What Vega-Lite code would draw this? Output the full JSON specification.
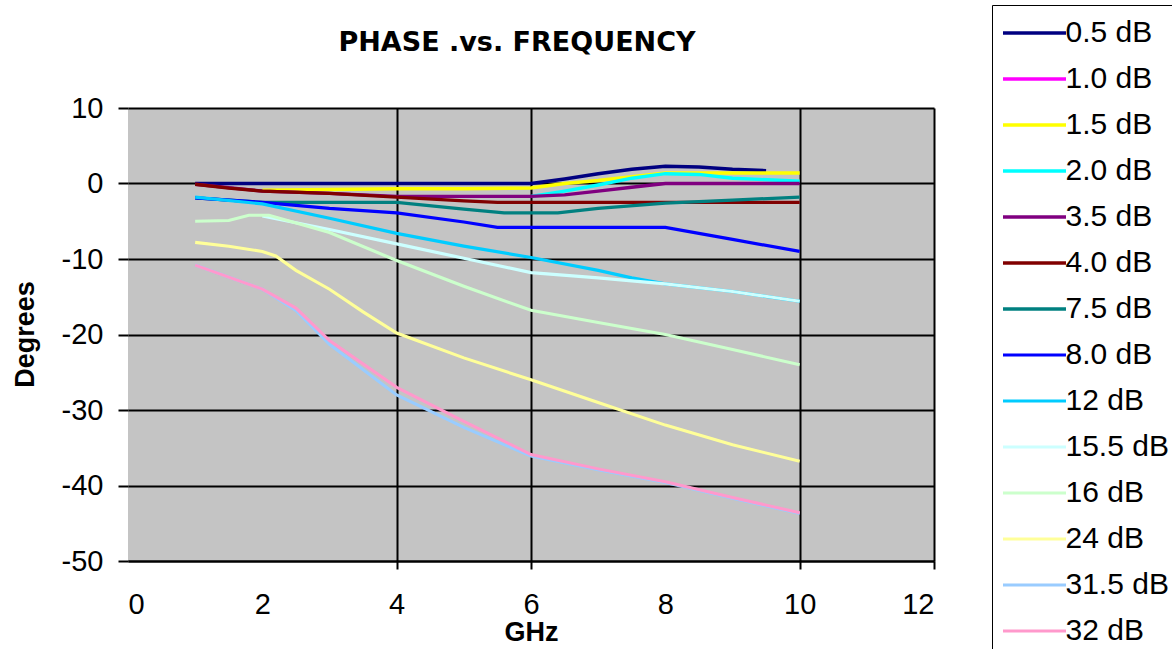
{
  "$schema": "https://vega.github.io/schema/vega-lite/v6.json",
  "width": 806,
  "height": 453,
  "autosize": {"type": "none"},
  "padding": {"left": 128, "top": 108, "right": 238, "bottom": 88},
  "background": "white",
  "config": {
    "view": {"fill": "#C4C4C4", "stroke": null},
    "font": "Liberation Sans"
  },
  "title": {
    "text": "PHASE .vs. FREQUENCY",
    "font": "DejaVu Sans",
    "fontSize": 27,
    "fontWeight": "bold",
    "color": "black",
    "anchor": "middle",
    "frame": "group",
    "baseline": "alphabetic",
    "offset": -73,
    "dx": -14
  },
  "data": {
    "values": [
      {"series": "0.5 dB", "GHz": 1, "deg": 0},
      {"series": "0.5 dB", "GHz": 2, "deg": 0},
      {"series": "0.5 dB", "GHz": 3, "deg": 0},
      {"series": "0.5 dB", "GHz": 4, "deg": 0},
      {"series": "0.5 dB", "GHz": 5, "deg": 0},
      {"series": "0.5 dB", "GHz": 6, "deg": 0},
      {"series": "0.5 dB", "GHz": 6.5, "deg": 0.6},
      {"series": "0.5 dB", "GHz": 7, "deg": 1.3},
      {"series": "0.5 dB", "GHz": 7.5, "deg": 1.9},
      {"series": "0.5 dB", "GHz": 8, "deg": 2.3},
      {"series": "0.5 dB", "GHz": 8.5, "deg": 2.2},
      {"series": "0.5 dB", "GHz": 9, "deg": 1.9},
      {"series": "0.5 dB", "GHz": 9.5, "deg": 1.7},

      {"series": "1.5 dB", "GHz": 2, "deg": -0.9},
      {"series": "1.5 dB", "GHz": 3, "deg": -0.8},
      {"series": "1.5 dB", "GHz": 4, "deg": -0.7},
      {"series": "1.5 dB", "GHz": 5, "deg": -0.7},
      {"series": "1.5 dB", "GHz": 6, "deg": -0.6},
      {"series": "1.5 dB", "GHz": 6.5, "deg": 0},
      {"series": "1.5 dB", "GHz": 7, "deg": 0.4},
      {"series": "1.5 dB", "GHz": 7.5, "deg": 0.9},
      {"series": "1.5 dB", "GHz": 8, "deg": 1.4},
      {"series": "1.5 dB", "GHz": 9, "deg": 1.4},
      {"series": "1.5 dB", "GHz": 10, "deg": 1.4},

      {"series": "2.0 dB", "GHz": 6, "deg": -1.7},
      {"series": "2.0 dB", "GHz": 6.5, "deg": -1.0},
      {"series": "2.0 dB", "GHz": 7, "deg": -0.2},
      {"series": "2.0 dB", "GHz": 7.5, "deg": 0.7},
      {"series": "2.0 dB", "GHz": 8, "deg": 1.3},
      {"series": "2.0 dB", "GHz": 8.5, "deg": 1.2},
      {"series": "2.0 dB", "GHz": 9, "deg": 0.7},
      {"series": "2.0 dB", "GHz": 10, "deg": 0.3},

      {"series": "3.5 dB", "GHz": 1, "deg": -0.1},
      {"series": "3.5 dB", "GHz": 2, "deg": -1.0},
      {"series": "3.5 dB", "GHz": 3, "deg": -1.3},
      {"series": "3.5 dB", "GHz": 4, "deg": -1.7},
      {"series": "3.5 dB", "GHz": 6, "deg": -1.7},
      {"series": "3.5 dB", "GHz": 6.5, "deg": -1.5},
      {"series": "3.5 dB", "GHz": 7, "deg": -1.0},
      {"series": "3.5 dB", "GHz": 7.5, "deg": -0.5},
      {"series": "3.5 dB", "GHz": 8, "deg": 0},
      {"series": "3.5 dB", "GHz": 9, "deg": 0},
      {"series": "3.5 dB", "GHz": 10, "deg": 0},

      {"series": "4.0 dB", "GHz": 1, "deg": -0.1},
      {"series": "4.0 dB", "GHz": 1.5, "deg": -0.6},
      {"series": "4.0 dB", "GHz": 2, "deg": -1.0},
      {"series": "4.0 dB", "GHz": 3, "deg": -1.3},
      {"series": "4.0 dB", "GHz": 4, "deg": -1.8},
      {"series": "4.0 dB", "GHz": 5, "deg": -2.3},
      {"series": "4.0 dB", "GHz": 5.5, "deg": -2.5},
      {"series": "4.0 dB", "GHz": 6, "deg": -2.5},
      {"series": "4.0 dB", "GHz": 7, "deg": -2.5},
      {"series": "4.0 dB", "GHz": 8, "deg": -2.5},
      {"series": "4.0 dB", "GHz": 9, "deg": -2.5},
      {"series": "4.0 dB", "GHz": 10, "deg": -2.5},

      {"series": "7.5 dB", "GHz": 1, "deg": -1.9},
      {"series": "7.5 dB", "GHz": 2, "deg": -2.5},
      {"series": "7.5 dB", "GHz": 3, "deg": -2.5},
      {"series": "7.5 dB", "GHz": 4, "deg": -2.5},
      {"series": "7.5 dB", "GHz": 5, "deg": -3.4},
      {"series": "7.5 dB", "GHz": 5.6, "deg": -3.9},
      {"series": "7.5 dB", "GHz": 6.4, "deg": -3.9},
      {"series": "7.5 dB", "GHz": 7, "deg": -3.3},
      {"series": "7.5 dB", "GHz": 8, "deg": -2.6},
      {"series": "7.5 dB", "GHz": 9, "deg": -2.2},
      {"series": "7.5 dB", "GHz": 10, "deg": -1.8},

      {"series": "8.0 dB", "GHz": 1, "deg": -1.9},
      {"series": "8.0 dB", "GHz": 2, "deg": -2.5},
      {"series": "8.0 dB", "GHz": 3, "deg": -3.3},
      {"series": "8.0 dB", "GHz": 4, "deg": -3.9},
      {"series": "8.0 dB", "GHz": 5, "deg": -5.1},
      {"series": "8.0 dB", "GHz": 5.5, "deg": -5.8},
      {"series": "8.0 dB", "GHz": 6, "deg": -5.8},
      {"series": "8.0 dB", "GHz": 7, "deg": -5.8},
      {"series": "8.0 dB", "GHz": 8, "deg": -5.8},
      {"series": "8.0 dB", "GHz": 9, "deg": -7.4},
      {"series": "8.0 dB", "GHz": 10, "deg": -9.0},

      {"series": "12 dB", "GHz": 1, "deg": -1.8},
      {"series": "12 dB", "GHz": 2, "deg": -2.7},
      {"series": "12 dB", "GHz": 3, "deg": -4.6},
      {"series": "12 dB", "GHz": 4, "deg": -6.6},
      {"series": "12 dB", "GHz": 5, "deg": -8.3},
      {"series": "12 dB", "GHz": 6, "deg": -9.8},
      {"series": "12 dB", "GHz": 7, "deg": -11.5},
      {"series": "12 dB", "GHz": 7.5, "deg": -12.5},
      {"series": "12 dB", "GHz": 8, "deg": -13.3},
      {"series": "12 dB", "GHz": 9, "deg": -14.3},
      {"series": "12 dB", "GHz": 10, "deg": -15.6},

      {"series": "15.5 dB", "GHz": 2, "deg": -4.3},
      {"series": "15.5 dB", "GHz": 3, "deg": -6.1},
      {"series": "15.5 dB", "GHz": 4, "deg": -8.0},
      {"series": "15.5 dB", "GHz": 5, "deg": -9.9},
      {"series": "15.5 dB", "GHz": 6, "deg": -11.8},
      {"series": "15.5 dB", "GHz": 7, "deg": -12.5},
      {"series": "15.5 dB", "GHz": 8, "deg": -13.3},
      {"series": "15.5 dB", "GHz": 9, "deg": -14.3},
      {"series": "15.5 dB", "GHz": 10, "deg": -15.6},

      {"series": "16 dB", "GHz": 1, "deg": -5.0},
      {"series": "16 dB", "GHz": 1.5, "deg": -4.9},
      {"series": "16 dB", "GHz": 1.8, "deg": -4.2},
      {"series": "16 dB", "GHz": 2.1, "deg": -4.2},
      {"series": "16 dB", "GHz": 3, "deg": -6.5},
      {"series": "16 dB", "GHz": 4, "deg": -10.2},
      {"series": "16 dB", "GHz": 5, "deg": -13.6},
      {"series": "16 dB", "GHz": 6, "deg": -16.8},
      {"series": "16 dB", "GHz": 7, "deg": -18.4},
      {"series": "16 dB", "GHz": 8, "deg": -20.0},
      {"series": "16 dB", "GHz": 9, "deg": -22.0},
      {"series": "16 dB", "GHz": 10, "deg": -24.0},

      {"series": "24 dB", "GHz": 1, "deg": -7.8},
      {"series": "24 dB", "GHz": 1.5, "deg": -8.3},
      {"series": "24 dB", "GHz": 2, "deg": -9.0},
      {"series": "24 dB", "GHz": 2.2, "deg": -9.6},
      {"series": "24 dB", "GHz": 2.5, "deg": -11.5},
      {"series": "24 dB", "GHz": 3, "deg": -14.0},
      {"series": "24 dB", "GHz": 3.5, "deg": -17.0},
      {"series": "24 dB", "GHz": 4, "deg": -19.8},
      {"series": "24 dB", "GHz": 5, "deg": -23.1},
      {"series": "24 dB", "GHz": 6, "deg": -26.0},
      {"series": "24 dB", "GHz": 7, "deg": -29.0},
      {"series": "24 dB", "GHz": 8, "deg": -32.0},
      {"series": "24 dB", "GHz": 9, "deg": -34.6},
      {"series": "24 dB", "GHz": 10, "deg": -36.8},

      {"series": "31.5 dB", "GHz": 1, "deg": -10.8},
      {"series": "31.5 dB", "GHz": 2, "deg": -14.0},
      {"series": "31.5 dB", "GHz": 2.5, "deg": -16.8},
      {"series": "31.5 dB", "GHz": 3, "deg": -21.3},
      {"series": "31.5 dB", "GHz": 4, "deg": -28.0},
      {"series": "31.5 dB", "GHz": 5, "deg": -32.3},
      {"series": "31.5 dB", "GHz": 6, "deg": -36.1},
      {"series": "31.5 dB", "GHz": 7, "deg": -37.9},
      {"series": "31.5 dB", "GHz": 8, "deg": -39.6},
      {"series": "31.5 dB", "GHz": 9, "deg": -41.7},
      {"series": "31.5 dB", "GHz": 10, "deg": -43.7},

      {"series": "32 dB", "GHz": 1, "deg": -10.8},
      {"series": "32 dB", "GHz": 2, "deg": -14.0},
      {"series": "32 dB", "GHz": 2.5, "deg": -16.5},
      {"series": "32 dB", "GHz": 3, "deg": -20.8},
      {"series": "32 dB", "GHz": 4, "deg": -27.0},
      {"series": "32 dB", "GHz": 5, "deg": -31.5},
      {"series": "32 dB", "GHz": 6, "deg": -35.9},
      {"series": "32 dB", "GHz": 7, "deg": -37.8},
      {"series": "32 dB", "GHz": 8, "deg": -39.5},
      {"series": "32 dB", "GHz": 9, "deg": -41.6},
      {"series": "32 dB", "GHz": 10, "deg": -43.6}
    ]
  },
  "mark": {"type": "line", "clip": true},
  "encoding": {
    "x": {
      "field": "GHz",
      "type": "quantitative",
      "scale": {"domain": [0, 12], "nice": false, "zero": false},
      "axis": {
        "values": [0, 2, 4, 6, 8, 10, 12],
        "labelExpr": "'' + datum.value",
        "grid": true,
        "gridColor": "black",
        "gridWidth": 2,
        "gridOpacity": {"condition": {"test": "datum.value == 0 || datum.value == 2 || datum.value == 8", "value": 0}, "value": 1},
        "domainColor": "black",
        "domainWidth": 2,
        "tickColor": "black",
        "tickSize": 8,
        "tickWidth": 2,
        "tickOpacity": {"condition": {"test": "datum.value == 0 || datum.value == 2 || datum.value == 8", "value": 0}, "value": 1},
        "labelFont": "Liberation Sans",
        "labelFontSize": 29,
        "labelColor": "black",
        "labelPadding": 21,
        "title": "GHz",
        "titleFont": "Liberation Sans",
        "titleFontSize": 27,
        "titleFontWeight": "bold",
        "titleColor": "black",
        "titleX": 403,
        "titleY": 71,
        "titleBaseline": "middle",
        "titleAlign": "center"
      }
    },
    "y": {
      "field": "deg",
      "type": "quantitative",
      "scale": {"domain": [-50, 10], "nice": false, "zero": false},
      "axis": {
        "values": [-50, -40, -30, -20, -10, 0, 10],
        "labelExpr": "'' + datum.value",
        "grid": true,
        "gridColor": "black",
        "gridWidth": 2,
        "domain": false,
        "tickColor": "black",
        "tickSize": 10,
        "tickWidth": 2,
        "labelFont": "Liberation Sans",
        "labelFontSize": 29,
        "labelColor": "black",
        "labelPadding": 15,
        "title": "Degrees",
        "titleFont": "Liberation Sans",
        "titleFontSize": 27,
        "titleFontWeight": "bold",
        "titleColor": "black",
        "titleAngle": 270,
        "titleX": -103,
        "titleY": 226,
        "titleBaseline": "middle",
        "titleAlign": "center"
      }
    },
    "color": {
      "field": "series",
      "type": "nominal",
      "sort": null,
      "scale": {
        "domain": ["0.5 dB", "1.0 dB", "1.5 dB", "2.0 dB", "3.5 dB", "4.0 dB", "7.5 dB", "8.0 dB", "12 dB", "15.5 dB", "16 dB", "24 dB", "31.5 dB", "32 dB"],
        "range": ["#000080", "#FF00FF", "#FFFF00", "#00FFFF", "#800080", "#800000", "#008080", "#0000FF", "#00CCFF", "#CCFFFF", "#CCFFCC", "#FFFF99", "#99CCFF", "#FF99CC"]
      },
      "legend": {
        "orient": "none",
        "legendX": 864,
        "legendY": -103,
        "title": null,
        "strokeColor": "black",
        "fillColor": "white",
        "padding": 13,
        "symbolType": "M-3,0H3",
        "symbolSize": 441,
        "symbolOffset": 14.5,
        "symbolStrokeWidth": 3,
        "labelOffset": 16,
        "labelFont": "Liberation Sans",
        "labelFontSize": 30,
        "labelColor": "black",
        "rowPadding": 16,
        "labelLimit": 300
      }
    },
    "strokeWidth": {
      "field": "series",
      "type": "nominal",
      "sort": null,
      "scale": {
        "domain": ["0.5 dB", "1.0 dB", "1.5 dB", "2.0 dB", "3.5 dB", "4.0 dB", "7.5 dB", "8.0 dB", "12 dB", "15.5 dB", "16 dB", "24 dB", "31.5 dB", "32 dB"],
        "range": [3.5, 3, 3.5, 3, 1.5, 2.5, 3, 3, 2.5, 3, 3, 3, 3, 3]
      },
      "legend": null
    }
  }
}
